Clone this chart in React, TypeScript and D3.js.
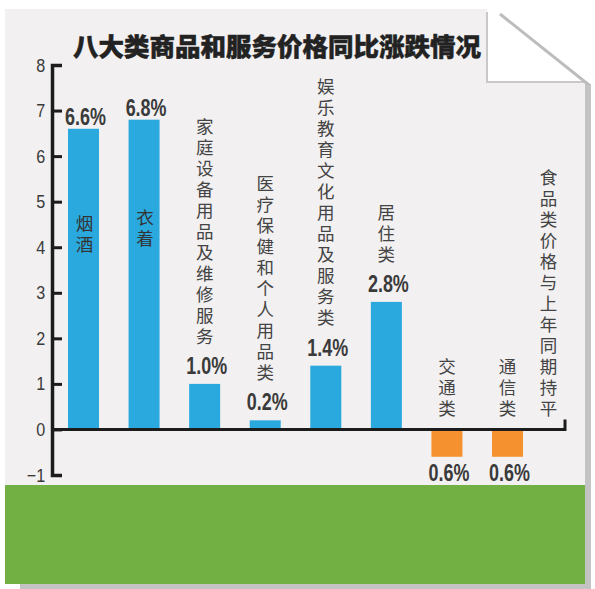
import { useEffect, useRef } from "react";
import * as d3 from "d3";

const title = "八大类商品和服务价格同比涨跌情况";
const categories = [
  "烟酒",
  "衣着",
  "家庭设备用品及维修服务",
  "医疗保健和个人用品类",
  "娱乐教育文化用品及服务类",
  "居住类",
  "交通类",
  "通信类",
];
const values = [6.6, 6.8, 1.0, 0.2, 1.4, 2.8, -0.6, -0.6];
const valueLabels = ["6.6%", "6.8%", "1.0%", "0.2%", "1.4%", "2.8%", "0.6%", "0.6%"];
const nameInsideBar = [true, true, false, false, false, false, false, false];
const flatCategory = "食品类价格与上年同期持平";
const flatValue = 0;
const yTicks = [-1, 0, 1, 2, 3, 4, 5, 6, 7, 8];

const W = 595;
const H = 589;
const CJK = "'Noto Sans CJK SC', 'Noto Sans', sans-serif";
const NUM = "'Liberation Sans', Arial, sans-serif";
const BLUE = "#2aa9df";
const ORANGE = "#f5922f";
const GREEN = "#72b043";
const PANEL = "#f2f0f1";
const SHADOW = "#c3c3c3";
const INK = "#3a3a3a";
const CHAR = 17.5;
const LINE = 21;

export default function App() {
  const svgRef = useRef<SVGSVGElement>(null);

  useEffect(() => {
    if (!svgRef.current) return;
    const svg = d3.select(svgRef.current);
    svg.selectAll("*").remove();

    // page background + folded corner
    svg.append("rect").attr("width", W).attr("height", H).attr("fill", "#ffffff");
    svg.append("rect").attr("x", 585).attr("y", 84).attr("width", 6).attr("height", 505).attr("fill", SHADOW);
    svg.append("rect").attr("x", 20).attr("y", 584).attr("width", 571).attr("height", 5).attr("fill", SHADOW);
    svg.append("rect").attr("x", 5).attr("y", 9).attr("width", 580).attr("height", 476).attr("fill", PANEL);
    svg.append("rect").attr("x", 5).attr("y", 485).attr("width", 580).attr("height", 99).attr("fill", GREEN);
    svg.append("rect").attr("x", 487).attr("y", 0).attr("width", 108).attr("height", 82).attr("fill", "#ffffff");
    svg.append("path")
      .attr("d", "M487,12 V82 H586")
      .attr("fill", "none").attr("stroke", "#c9c9c9").attr("stroke-width", 2);
    svg.append("path")
      .attr("d", "M500,14 L589,85")
      .attr("fill", "none").attr("stroke", "#bdbdbd").attr("stroke-width", 3);

    // title
    svg.append("text")
      .attr("x", 277).attr("y", 44)
      .attr("text-anchor", "middle").attr("dominant-baseline", "central")
      .attr("font-family", CJK).attr("font-weight", 900).attr("font-size", 25.5)
      .attr("fill", "#222").attr("stroke", "#222").attr("stroke-width", 0.5)
      .text(title);

    const y = d3.scaleLinear().domain([-1, 8]).range([475, 65]);
    const x = d3.scaleBand<string>().domain(categories).range([52, 539])
      .paddingInner(0.488).paddingOuter(0.264);
    const bw = x.bandwidth();
    const y0 = y(0);

    // bars
    svg.append("g").selectAll("rect")
      .data(categories)
      .join("rect")
      .attr("x", (d) => x(d)!)
      .attr("width", bw)
      .attr("y", (_, i) => Math.min(y(values[i]), y0))
      .attr("height", (_, i) => Math.abs(y(values[i]) - y0))
      .attr("fill", (_, i) => (values[i] >= 0 ? BLUE : ORANGE));

    // y axis
    const axis = d3.axisLeft(y).tickValues(yTicks).tickSize(-10).tickPadding(8)
      .tickFormat((d) => d3.format("")(d as number).replace("-", "−"));
    svg.append("g")
      .attr("transform", "translate(52,0)")
      .call(axis)
      .call((ax) => ax.select(".domain").attr("stroke", "#1c1c1c").attr("stroke-width", 3.5).attr("fill", "none"))
      .call((ax) => ax.selectAll(".tick line").attr("stroke", "#1c1c1c").attr("stroke-width", 3))
      .call((ax) =>
        ax.selectAll(".tick text")
          .attr("fill", INK)
          .attr("font-family", NUM)
          .attr("font-size", 19)
          .attr("transform", "scale(0.85,1)")
      );

    // zero baseline
    const xEnd = x(categories[categories.length - 1])! + bw + 42;
    svg.append("path")
      .attr("d", `M52,${y0} H${xEnd} V${y0 - 10}`)
      .attr("fill", "none").attr("stroke", "#1c1c1c").attr("stroke-width", 3);

    // one text per column, set vertically
    const vertical = (name: string, cx: number, lastCenter: number, color: string) => {
      const n = Array.from(name).length;
      const top = lastCenter - (n - 1) * LINE - CHAR / 2;
      svg.append("text")
        .attr("x", cx)
        .attr("y", top)
        .attr("style", "writing-mode: vertical-rl; text-orientation: upright")
        .attr("text-anchor", "start")
        .attr("letter-spacing", LINE - CHAR)
        .attr("font-family", CJK).attr("font-size", CHAR).attr("fill", color)
        .text(name);
    };

    categories.forEach((c, i) => {
      const v = values[i];
      const cx = x(c)! + bw / 2;
      const base = v >= 0 ? y(v) - (nameInsideBar[i] ? 4 : 10) : y(v) + 24;

      svg.append("text")
        .attr("transform", `translate(${cx + 2},${base}) scale(0.78,1)`)
        .attr("text-anchor", "middle")
        .attr("font-family", NUM).attr("font-weight", 700).attr("font-size", 23)
        .attr("fill", INK)
        .text(valueLabels[i]);

      if (nameInsideBar[i]) vertical(c, cx + 1, y(v * 0.65) + 10, "#333");
      else if (v > 0) vertical(c, cx, base - 38, "#444");
      else vertical(c, cx, y0 - 21, "#444");
    });

    // flat category (no bar)
    const fx = x(categories[categories.length - 1])! + bw / 2 + 41;
    vertical(flatCategory, fx, y(flatValue) - 21, "#444");
  }, []);

  return (
    <div style={{ position: "absolute", left: 0, top: 0 }}>
      <svg ref={svgRef} width={W} height={H} style={{ display: "block" }} />
    </div>
  );
}
